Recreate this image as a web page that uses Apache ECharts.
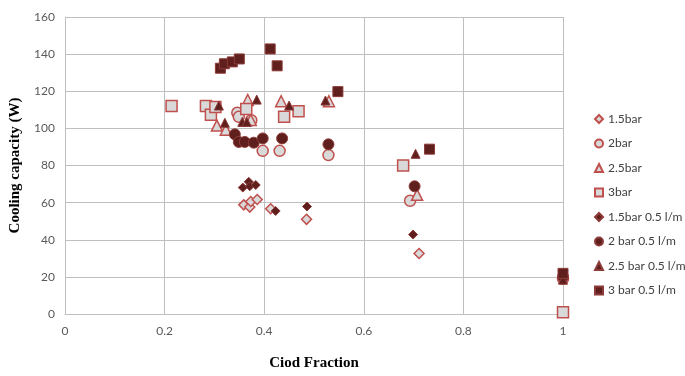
<!DOCTYPE html>
<html>
<head>
<meta charset="utf-8">
<script src="https://cdn.jsdelivr.net/npm/echarts@6/dist/echarts.min.js"></script>
<style>
  html, body { margin: 0; padding: 0; background: #fff; }
  #chart { width: 685px; height: 376px; }
</style>
</head>
<body>
<div id="chart"></div>
<script>
// [ciod fraction, cooling capacity W]
let bar15 = [[0.359, 58.8], [0.371, 57.6], [0.373, 60.6], [0.386, 61.7], [0.413, 56.7], [0.485, 51], [0.711, 32.6]];
let bar2 = [[0.346, 108.4], [0.349, 106.2], [0.374, 104.4], [0.397, 87.9], [0.431, 87.9], [0.529, 85.6], [0.693, 61], [1, 19]];
let bar25 = [[0.305, 101.5], [0.323, 99.3], [0.367, 115.3], [0.373, 104.5], [0.434, 114.6], [0.53, 114.6], [0.707, 64.2]];
let bar3 = [[0.214, 112], [0.283, 112], [0.293, 107.3], [0.302, 111.5], [0.364, 110.5], [0.44, 106.3], [0.469, 109.2], [0.679, 80], [1, 1]];
let bar15f = [[0.357, 68.1], [0.369, 71.2], [0.371, 68.8], [0.383, 69.5], [0.423, 55.5], [0.486, 57.9], [0.699, 42.8]];
let bar2f = [[0.341, 96.8], [0.349, 92.7], [0.361, 92.7], [0.379, 92.3], [0.397, 94.6], [0.436, 94.6], [0.529, 91.4], [0.702, 68.8], [1, 20]];
let bar25f = [[0.309, 112.3], [0.321, 103], [0.356, 103.5], [0.365, 103.5], [0.385, 115.5], [0.45, 112.3], [0.523, 115], [0.704, 86.3], [1, 18.5]];
let bar3f = [[0.312, 132.4], [0.32, 134.8], [0.336, 135.8], [0.35, 137.4], [0.412, 142.8], [0.426, 133.7], [0.548, 119.8], [0.732, 88.8], [1, 21.9]];

let lightStyle = { color: '#d9d9d9', borderColor: '#c0504d', borderWidth: 1.5, opacity: 1 };
let darkStyle = { color: '#5e1f1d', borderColor: '#8c3b39', borderWidth: 1, opacity: 1 };

function mk(name, data, symbol, size, style) {
    return {
        name: name,
        type: 'scatter',
        data: data,
        symbol: symbol,
        symbolSize: size,
        itemStyle: style
    };
}

let chart = echarts.init(document.getElementById('chart'));
chart.setOption({
    animation: false,
    grid: { left: 63, right: 122, top: 17, bottom: 60 },
    legend: {
        orient: 'vertical',
        left: 589,
        top: 108,
        itemWidth: 8,
        itemHeight: 8,
        itemGap: 12.5,
        textStyle: { fontFamily: 'Lato', fontSize: 12, color: '#404040' },
        data: ['1.5bar', '2bar', '2.5bar', '3bar', '1.5bar 0.5 l/m', '2 bar 0.5 l/m', '2.5 bar 0.5 l/m', '3 bar 0.5 l/m']
    },
    xAxis: {
        type: 'value',
        min: 0,
        max: 1,
        interval: 0.2,
        name: 'Ciod Fraction',
        nameLocation: 'middle',
        nameGap: 42,
        nameTextStyle: { fontFamily: 'Liberation Serif', fontWeight: 'bold', fontSize: 15, color: '#000' },
        axisLine: { lineStyle: { color: '#bfbfbf' } },
        axisTick: { show: false },
        axisLabel: { color: '#595959', fontFamily: 'Lato', fontSize: 12, margin: 11 },
        splitLine: { lineStyle: { color: '#bfbfbf' } }
    },
    yAxis: {
        type: 'value',
        min: 0,
        max: 160,
        interval: 20,
        name: 'Cooling capacity (W)',
        nameLocation: 'middle',
        nameGap: 42,
        nameTextStyle: { fontFamily: 'Liberation Serif', fontWeight: 'bold', fontSize: 15, color: '#000' },
        axisLine: { show: true, lineStyle: { color: '#bfbfbf' } },
        axisTick: { show: false },
        axisLabel: { color: '#595959', fontFamily: 'Lato', fontSize: 12, margin: 10 },
        splitLine: { lineStyle: { color: '#bfbfbf' } }
    },
    series: [
        mk('1.5bar', bar15, 'diamond', 10, lightStyle),
        mk('2bar', bar2, 'circle', 11, lightStyle),
        mk('2.5bar', bar25, 'triangle', 11, lightStyle),
        mk('3bar', bar3, 'rect', 11, lightStyle),
        mk('1.5bar 0.5 l/m', bar15f, 'diamond', 9, darkStyle),
        mk('2 bar 0.5 l/m', bar2f, 'circle', 11, darkStyle),
        mk('2.5 bar 0.5 l/m', bar25f, 'triangle', 9, darkStyle),
        mk('3 bar 0.5 l/m', bar3f, 'rect', 10, darkStyle)
    ]
});
</script>
</body>
</html>
